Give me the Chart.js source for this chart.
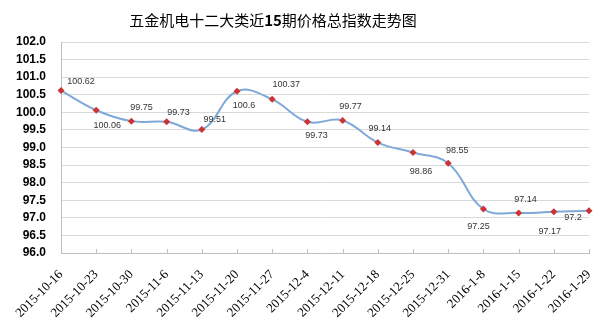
<!DOCTYPE html>
<html>
<head>
<meta charset="utf-8">
<script src="https://cdn.jsdelivr.net/npm/chart.js@4.4.0/dist/chart.umd.min.js"></script>
<style>
  html, body { margin: 0; padding: 0; background: #fff; }
  #wrap { width: 600px; height: 330px; }
</style>
</head>
<body>
<div id="wrap"><canvas id="indexChart"></canvas></div>
<script>
const weeks = ["2015-10-16", "2015-10-23", "2015-10-30", "2015-11-6", "2015-11-13", "2015-11-20",
  "2015-11-27", "2015-12-4", "2015-12-11", "2015-12-18", "2015-12-25", "2015-12-31",
  "2016-1-8", "2016-1-15", "2016-1-22", "2016-1-29"];
const indexValues = [100.62, 100.06, 99.75, 99.73, 99.51, 100.6, 100.37, 99.73, 99.77, 99.14,
  98.86, 98.55, 97.25, 97.14, 97.17, 97.2];
const yMin = 96;
const yMax = 102;
const yStep = 0.5;

// title pieces: the period count is drawn bold
const titleParts = [['五金机电十二大类近', 'normal'], ['15', 'bold'], ['期价格总指数走势图', 'normal']];

// where each value label sits relative to its point (dx, dy in px)
const labelOffsets = [[20, -9], [11, 15], [10, -14], [12, -9], [13, -10], [7, 14], [14, -15], [9, 14],
  [8, -14], [2, -14], [8, 19], [9, -13], [-5, 17], [7, -13], [-4, 20], [-16, 7]];

const valueLabels = {
  id: 'valueLabels',
  afterDatasetsDraw(chart) {
    const ctx = chart.ctx;
    const meta = chart.getDatasetMeta(0);
    ctx.save();
    ctx.font = '9px "Liberation Sans", Arial, sans-serif';
    ctx.fillStyle = '#333';
    ctx.textAlign = 'center';
    ctx.textBaseline = 'middle';
    meta.data.forEach((pt, i) => {
      const off = labelOffsets[i];
      ctx.fillText(String(indexValues[i]), pt.x + off[0], pt.y + off[1]);
    });
    ctx.restore();
  }
};

// short tick marks pointing up from the category axis
const innerTicks = {
  id: 'innerTicks',
  afterDraw(chart) {
    const ctx = chart.ctx;
    const xs = chart.scales.x;
    ctx.save();
    ctx.strokeStyle = '#bfbfbf';
    ctx.lineWidth = 1;
    ctx.beginPath();
    xs.ticks.forEach((t, i) => {
      const px = Math.round(xs.getPixelForTick(i)) + 0.5;
      ctx.moveTo(px, xs.top);
      ctx.lineTo(px, xs.top - 4);
    });
    ctx.stroke();
    ctx.restore();
  }
};

// mixed-weight title, centred a little left of the canvas middle
const mixedTitle = {
  id: 'mixedTitle',
  afterDraw(chart) {
    const ctx = chart.ctx;
    const fam = '"Noto Sans CJK SC", sans-serif';
    ctx.save();
    ctx.fillStyle = '#000';
    ctx.textBaseline = 'middle';
    ctx.textAlign = 'left';
    let total = 0;
    titleParts.forEach(([t, w]) => {
      ctx.font = w + ' 15px ' + fam;
      total += ctx.measureText(t).width;
    });
    let x = 273 - total / 2;
    titleParts.forEach(([t, w]) => {
      ctx.font = w + ' 15px ' + fam;
      ctx.fillText(t, x, 20);
      x += ctx.measureText(t).width;
    });
    ctx.restore();
  }
};

let ctx = document.getElementById('indexChart').getContext('2d');

let indexChart = new Chart(ctx, {
  type: 'line',
  data: {
    labels: weeks,
    datasets: [{
      data: indexValues,
      borderColor: '#7ea9d9',
      borderWidth: 2,
      tension: 0.4,
      pointStyle: 'rectRot',
      pointRadius: 3.5,
      pointBackgroundColor: '#cc3333',
      pointBorderColor: '#cc3333',
      pointBorderWidth: 0,
    }]
  },
  options: {
    responsive: true,
    maintainAspectRatio: false,
    animation: false,
    layout: {
      padding: { top: 42, right: 11, left: 0, bottom: 0 }
    },
    plugins: {
      legend: { display: false },
      tooltip: { enabled: false },
      title: { display: false },
    },
    scales: {
      x: {
        offset: false,
        afterFit(scale) {
          scale.height = 77;
          scale.paddingLeft = 0;
          scale.paddingRight = 0;
        },
        grid: {
          display: false,
        },
        border: { color: '#bfbfbf', width: 1 },
        ticks: {
          autoSkip: false,
          maxRotation: 45,
          minRotation: 45,
          padding: 6,
          color: '#000',
          font: { family: '"Liberation Serif", "DejaVu Serif", serif', size: 13 },
        }
      },
      y: {
        min: yMin,
        max: yMax,
        afterFit(scale) { scale.width = 61; },
        grid: {
          color: '#d9d9d9',
          drawTicks: false,
        },
        border: { color: '#bfbfbf', width: 1 },
        ticks: {
          stepSize: yStep,
          autoSkip: false,
          maxTicksLimit: 20,
          padding: 15,
          color: '#000',
          font: { family: '"Liberation Sans", Arial, sans-serif', size: 12, weight: 'bold' },
          callback: (v) => Number(v).toFixed(1),
        }
      }
    }
  },
  plugins: [valueLabels, innerTicks, mixedTitle]
});
</script>
</body>
</html>
